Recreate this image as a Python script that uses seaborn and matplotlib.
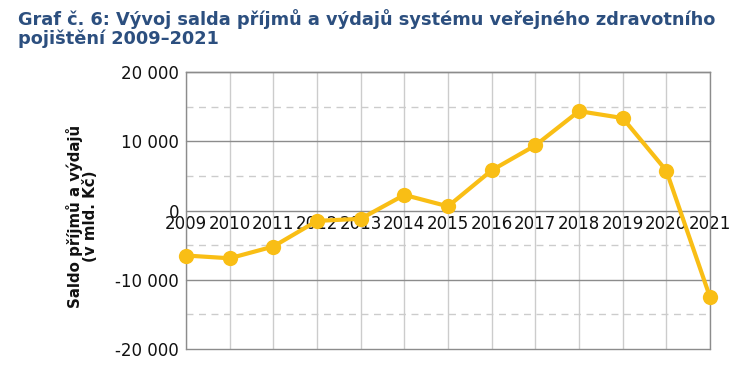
import matplotlib
matplotlib.use("Agg")
import matplotlib.pyplot as plt
import seaborn as sns
import pandas as pd
from matplotlib.ticker import FuncFormatter

years = [2009, 2010, 2011, 2012, 2013, 2014, 2015, 2016, 2017, 2018, 2019, 2020, 2021]
saldo = [-6500, -6900, -5200, -1500, -1200, 2250, 600, 5800, 9400, 14350, 13350, 5750, -12500]
y_major = [-20000, -10000, 0, 10000, 20000]
y_minor = [-15000, -5000, 5000, 15000]
title = "Graf č. 6: Vývoj salda příjmů a výdajů systému veřejného zdravotního\npojištění 2009–2021"
ylabel = "Saldo příjmů a výdajů\n(v mld. Kč)"

sns.set_theme(style="white")
plt.rcParams['font.family'] = ['DejaVu Sans']

df = pd.DataFrame({"rok": years, "saldo": saldo})

fig = plt.figure(figsize=(7.5, 3.7), dpi=100)
ax = fig.add_axes([186/750, 1-349/370, (710-186)/750, (349-72)/370])

# grid
for yr in years:
    ax.axvline(yr, color="#cccccc", lw=1, zorder=0)
for v in y_minor:
    ax.axhline(v, color="#cccccc", lw=1, ls=(0, (5, 4)), zorder=0)
for v in y_major:
    ax.axhline(v, color="#8c8c8c", lw=1, zorder=0.5, clip_on=False)

sns.lineplot(data=df, x="rok", y="saldo", ax=ax, color="#F9BE15", lw=3,
             marker="o", markersize=11, markeredgewidth=0, zorder=3, clip_on=False)

ax.set_xlim(2009, 2021)
ax.set_ylim(-20000, 20000)
ax.set_yticks(y_major)
ax.yaxis.set_major_formatter(FuncFormatter(lambda v, p: f"{int(v):,}".replace(",", " ")))
ax.tick_params(axis="y", length=0, pad=5, labelsize=12, labelcolor="#111111")
ax.set_xticks(years)
ax.set_xticklabels([str(y) for y in years])
ax.tick_params(axis="x", length=0, pad=3.5, labelsize=12, labelcolor="#111111")
ax.set_xlabel("")
ax.set_ylabel("")
for s in ax.spines.values():
    s.set_color("#8c8c8c")
    s.set_linewidth(1)
ax.spines["bottom"].set_position(("data", 0))
ax.spines["bottom"].set_visible(False)

fig.text(18/750, 1-9/370, title, ha="left", va="top", fontsize=12.8,
         fontweight="bold", color="#2C4F7F", linespacing=1.05)
fig.text(82/750, 1-216/370, ylabel, ha="center", va="center", rotation=90,
         fontsize=10.8, fontweight="bold", color="#111111", linespacing=0.95)

fig.savefig("out.png", dpi=100)
